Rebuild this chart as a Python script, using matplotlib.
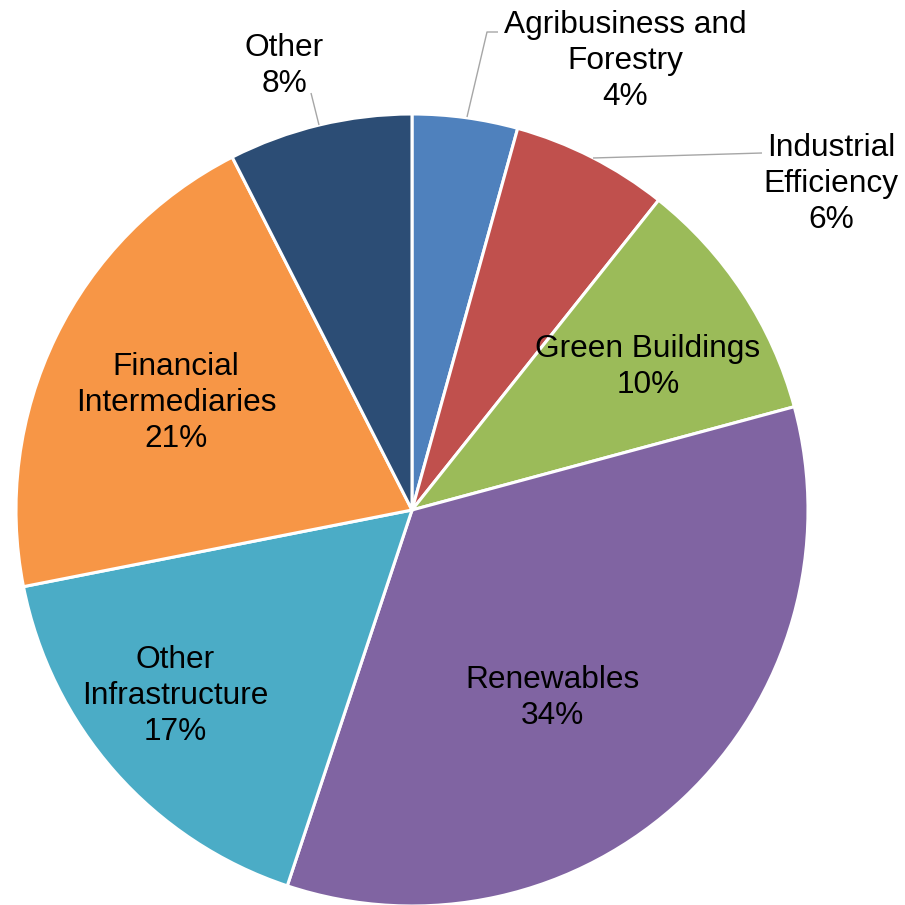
import matplotlib
matplotlib.use("Agg")
import matplotlib.pyplot as plt

plt.rcParams.update({
    "font.family": ["Liberation Sans", "DejaVu Sans"],
    "figure.dpi": 100,
})

# --- data -------------------------------------------------------------------
sectors = ["Agribusiness and\nForestry", "Industrial\nEfficiency",
           "Green Buildings", "Renewables", "Other\nInfrastructure",
           "Financial\nIntermediaries", "Other"]
shares = [4.3, 6.4, 10.1, 34.3, 16.8, 20.6, 7.5]
colors = ["#4F81BD", "#C0504D", "#9BBB59", "#8064A2", "#4BACC6",
          "#F79646", "#2C4D75"]

W = H = 905
CX, CY, R = 412, 510, 396        # pie centre / radius in pixels (y down)

# label centres in pixels (y down)
label_xy = [(625, 61), (831, 184), (648, 367), (552, 698),
            (175, 696), (176, 403), (284, 66)]

LEADER = "#A6A6A6"
leaders = [
    [(467, 117), (487, 32), (498, 32)],
    [(593, 158), (762, 153)],
    None, None, None, None,
    [(319, 125), (311, 93)],
]

fig = plt.figure(figsize=(W / 100, H / 100))
ax = fig.add_axes([0, 0, 1, 1])

ax.pie(shares, colors=colors, startangle=90, counterclock=False,
       center=(CX, H - CY), radius=R, frame=True,
       wedgeprops=dict(edgecolor="white", linewidth=2.2))
ax.set_xlim(0, W)
ax.set_ylim(0, H)
ax.set_aspect("equal")
ax.axis("off")

for name, v, (x, y), ld in zip(sectors, shares, label_xy, leaders):
    ax.text(x, H - y, f"{name}\n{round(v):.0f}%", ha="center", va="center",
            fontsize=22.8, linespacing=1.25, color="black")
    if ld:
        ax.plot([p[0] for p in ld], [H - p[1] for p in ld], color=LEADER,
                lw=1.0, solid_capstyle="butt")

fig.savefig("out.png", dpi=100, facecolor="white")
